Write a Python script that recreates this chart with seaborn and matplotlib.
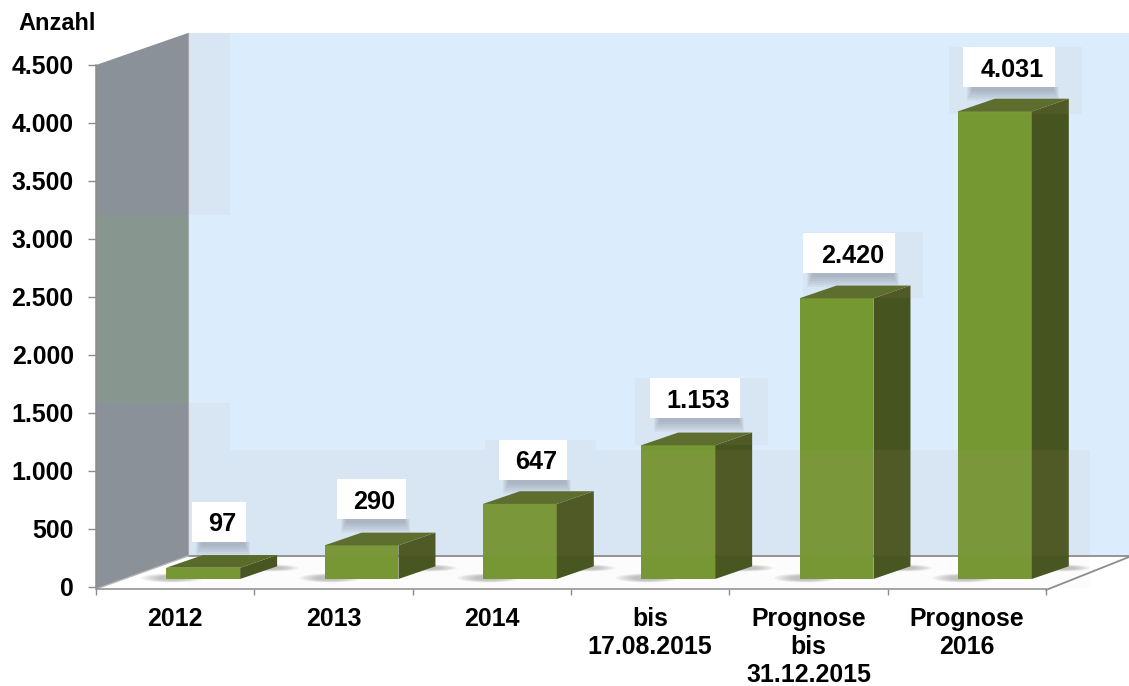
import matplotlib
matplotlib.use("Agg")
import matplotlib.pyplot as plt
import seaborn as sns
from matplotlib.patches import Polygon, Rectangle, Ellipse
from matplotlib.transforms import Affine2D
from matplotlib.ticker import FixedLocator

# Values and labels
categories = ["2012", "2013", "2014", "bis\n17.08.2015", "Prognose\nbis\n31.12.2015", "Prognose\n2016"]
values = [97, 290, 647, 1153, 2420, 4031]
y_ticks = [0, 500, 1000, 1500, 2000, 2500, 3000, 3500, 4000, 4500]
y_label = "Anzahl"

# Placement of the value labels relative to their bars, in pixels
label_dx = [19, 13, 16, 20, 16, 17]
label_rise = [46, 46, 44, 47, 45, 44]
box_widths = [54, 69, 68, 90, 92, 92]

W, H = 1129, 686
sns.set_theme(style="white")
plt.rcParams["font.family"] = ["Liberation Sans", "DejaVu Sans"]
plt.rcParams["font.weight"] = "bold"

fig = plt.figure(figsize=(W / 100, H / 100), dpi=100, facecolor="white")
ax = fig.add_axes([96 / W, (H - 587) / H, 950 / W, 522 / H])
ax.patch.set_visible(False)

FRONT, TOP, SIDE = "#759833", "#566b28", "#465520"
GREY = "#8c8c8c"
sns.barplot(x=categories, y=values, color=FRONT, saturation=1, width=0.467,
            edgecolor="none", linewidth=0, ax=ax)
ax.set_xlim(-0.5, 5.5)
ax.set_ylim(0, 4500)
ax.set_xlabel("")
ax.set_ylabel("")

# Pixel coordinates with the origin at the top left of the figure
px = Affine2D().scale(1, -1).translate(0, H)


def deco(artist):
    artist.set_clip_on(False)
    ax.add_artist(artist)
    return artist


def poly(points, color, z, alpha=None):
    deco(Polygon(points, closed=True, facecolor=color, edgecolor="none",
                 transform=px, zorder=z, alpha=alpha))


def rect(x0, y0, x1, y1, color, z, alpha=None):
    deco(Rectangle((x0, y0), x1 - x0, y1 - y0, facecolor=color, edgecolor="none",
                   transform=px, zorder=z, alpha=alpha))


# Back wall, side wall and floor
poly([(188, 33), (W, 33), (W, 556), (188, 556)], "#dbecfd", 0.5)
poly([(96, 65), (188, 33), (188, 556), (96, 589)], "#8a9198", 0.6)
rect(96, 215, 188, 403, "#87968f", 0.65)
poly([(96, 589), (188, 556), (W, 556), (1046, 589)], "white", 0.7)
ax.plot([188, W], [556, 556], color=GREY, lw=1.3, transform=px, clip_on=False, zorder=0.8)
ax.plot([188, 188], [33, 556], color="#a8a8b0", lw=0.8, transform=px, clip_on=False, zorder=0.8)
ax.plot([96, 188], [589, 556], color="#b5b5b5", lw=1.0, transform=px, clip_on=False, zorder=0.8)
ax.plot([1046, W], [590, 557], color=GREY, lw=1.3, transform=px, clip_on=False, zorder=0.8)

# Extruded bars: front faces are shifted onto the floor, then sides and tops are added
shift = Affine2D().translate(28, 8)
bar_tf = ax.transData + shift
depth_x = 37 / (950 / 6)
depth_y = 12.7 / (522 / 4500)
for p in list(ax.containers[0]):
    x0, x1, v = p.get_x(), p.get_x() + p.get_width(), p.get_height()
    p.set_transform(bar_tf)
    p.set_clip_on(False)
    p.set_zorder(2)
    deco(Polygon([(x1, 0), (x1 + depth_x, depth_y), (x1 + depth_x, v + depth_y), (x1, v)],
                 facecolor=SIDE, edgecolor="none", transform=bar_tf, zorder=2))
    deco(Polygon([(x0, v), (x0 + depth_x, v + depth_y), (x1 + depth_x, v + depth_y), (x1, v)],
                 facecolor=TOP, edgecolor="none", transform=bar_tf, zorder=2.1))
    # Soft contact shadows on the floor
    (lx, _), (rx, by) = bar_tf.transform([(x0, 0), (x1, 0)])
    by = H - by
    for k in range(5):
        deco(Ellipse((lx + 6, by - 1), 62 - 8 * k, 9 - k, facecolor="#606060", edgecolor="none",
                     alpha=0.09, transform=px, zorder=1))
        deco(Ellipse((rx + 30, by - 11), 56 - 7 * k, 7 - k, facecolor="#606060", edgecolor="none",
                     alpha=0.09, transform=px, zorder=1))

# Pale translucent panels lying over the wall and the bars
HAZE = "#be9682"
rect(188, 33, 230, 215, HAZE, 3, 0.08)
rect(188, 403, 230, 450, HAZE, 3, 0.08)
rect(188, 450, 1090, 556, HAZE, 3, 0.08)
rect(188, 556, 1090, 588, HAZE, 3, 0.02)
rect(949, 47, 1082, 114, HAZE, 3, 0.08)
rect(803, 232, 923, 298, HAZE, 3, 0.08)
rect(635, 378, 768, 445, HAZE, 3, 0.08)
rect(485, 440, 596, 450, HAZE, 3, 0.08)

# Value labels on white cards with a soft shadow underneath
for i, v in enumerate(values):
    tx, ty = ax.transData.transform((i, v))
    cx = tx + 28 + label_dx[i]
    cy = H - (ty + 8) - label_rise[i]
    bw = box_widths[i]
    left, right = cx - bw / 2 - 3, cx + bw / 2 - 3
    for k in range(6):
        rect(left + 4 + k, cy + 20, right + 4 - k, cy + 22 + 2 * (6 - k), "#5a6478", 2.05, 0.07)
    rect(left, cy - 20, right, cy + 20, "white", 4)
    ax.annotate(f"{v:,}".replace(",", "."), xy=(i, v), xycoords=bar_tf,
                xytext=(label_dx[i], label_rise[i]), textcoords="offset pixels",
                ha="center", va="center_baseline", fontsize=18.2, fontweight="bold",
                color="black", zorder=5, annotation_clip=False)

# Axes
sns.despine(ax=ax, top=True, right=True)
for name in ("left", "bottom"):
    ax.spines[name].set_color(GREY)
    ax.spines[name].set_linewidth(1.1)
    ax.spines[name].set_zorder(1.2)
ax.spines["bottom"].set_position(("outward", 1.6))
ax.set_yticks(y_ticks)
ax.set_yticklabels([f"{t:,}".replace(",", ".") for t in y_ticks])
ax.tick_params(axis="y", which="major", left=True, length=5.6, width=1, color=GREY, pad=10.5,
               labelsize=17.9, labelcolor="black")
ax.xaxis.set_minor_locator(FixedLocator([i - 0.5 for i in range(len(categories) + 1)]))
ax.tick_params(axis="x", which="major", bottom=False, length=0, pad=13, labelsize=17.9, labelcolor="black")
ax.tick_params(axis="x", which="minor", bottom=True, length=4.6, width=1, color=GREY)
for lab in ax.get_xticklabels():
    lab.set_linespacing(1.2)
    lab.set_fontweight("bold")
for lab in ax.get_yticklabels():
    lab.set_fontweight("bold")

fig.text(18 / W, 1 - 23 / H, y_label, ha="left", va="center", fontsize=16.9, fontweight="bold", color="black")

fig.savefig("out.png", dpi=100)
